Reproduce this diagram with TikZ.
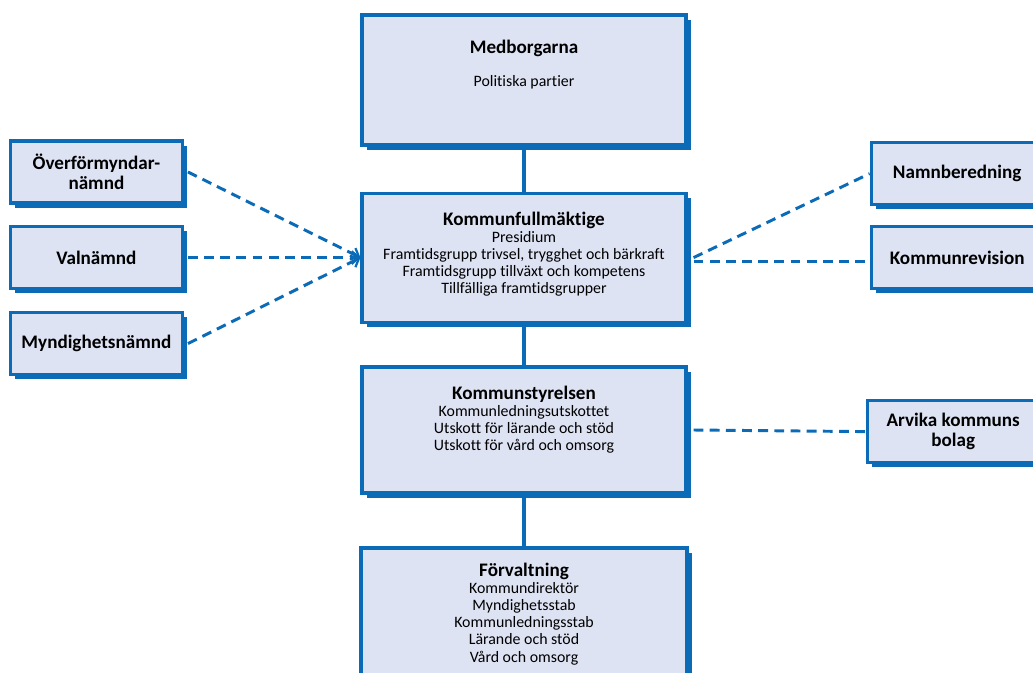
\documentclass[tikz,border=0pt]{standalone}
\usepackage{fontspec}
\setmainfont{Carlito}[Ligatures={NoCommon}]
\usetikzlibrary{arrows.meta,shadows}

\definecolor{orgblue}{HTML}{0B6BB6}
\definecolor{orgfill}{HTML}{DEE3F4}

\tikzset{
  orgbox/.style={draw=orgblue, line width=2.2pt, fill=orgfill, inner sep=0pt,
    drop shadow={shadow xshift=0.12cm, shadow yshift=-0.12cm, fill=orgblue, opacity=1}},
  sidebox/.style={orgbox, minimum width=4.3cm, minimum height=1.55cm,
    align=center, font=\bfseries\fontsize{13.6}{14.5}\selectfont},
  orgtext/.style={anchor=north, align=center, inner sep=0pt,
    font=\fontsize{11.3}{12.1}\selectfont},
  solidlink/.style={draw=orgblue, line width=2.3pt},
  dashlink/.style={draw=orgblue, line width=2.1pt, dash pattern=on 7pt off 4.5pt}
}
\newcommand{\orgtitle}[1]{{\bfseries\fontsize{13.6}{14}\selectfont #1}}

\begin{document}
\begin{tikzpicture}
\useasboundingbox (0cm,0cm) rectangle (25.825cm,-16.825cm);

% central column
\node[orgbox, minimum width=8.1cm, minimum height=3.25cm] (medb) at (13.1cm,-2.0cm) {};
\node[orgbox, minimum width=8.1cm, minimum height=3.225cm] (kf) at (13.1cm,-6.44cm) {};
\node[orgbox, minimum width=8.1cm, minimum height=3.15cm] (ks) at (13.1cm,-10.75cm) {};
\node[orgbox, minimum width=8.15cm, minimum height=3.6cm] (forv) at (13.1cm,-15.5cm) {};

\node[orgtext] (medbtext) at ([yshift=-0.65cm]medb.north) {\orgtitle{Medborgarna}\\[0.42cm] Politiska partier};
\node[orgtext] (kftext) at ([yshift=-0.5cm]kf.north) {\orgtitle{Kommunfullmäktige}\\ Presidium\\ Framtidsgrupp trivsel, trygghet och bärkraft\\ Framtidsgrupp tillväxt och kompetens\\ Tillfälliga framtidsgrupper};
\node[orgtext] (kstext) at ([yshift=-0.5cm]ks.north) {\orgtitle{Kommunstyrelsen}\\ Kommunledningsutskottet\\ Utskott för lärande och stöd\\ Utskott för vård och omsorg};
\node[orgtext] (forvtext) at ([yshift=-0.42cm]forv.north) {\orgtitle{Förvaltning}\\ Kommundirektör\\ Myndighetsstab\\ Kommunledningsstab\\ Lärande och stöd\\ Vård och omsorg};

% side boxes
\node[sidebox] (overf) at (2.41cm,-4.3cm) {Överförmyndar-\\nämnd};
\node[sidebox] (valn) at (2.41cm,-6.44cm) {Valnämnd};
\node[sidebox] (myndn) at (2.41cm,-8.59cm) {Myndighetsnämnd};
\node[sidebox] (namnb) at (23.93cm,-4.34cm) {Namnberedning};
\node[sidebox] (revis) at (23.93cm,-6.44cm) {Kommunrevision};
\node[sidebox] (bolag) at (23.83cm,-10.79cm) {Arvika kommuns\\bolag};

% links
\draw[solidlink] (medb.south) -- (kf.north);
\draw[solidlink] (kf.south) -- (ks.north);
\draw[solidlink] (ks.south) -- (forv.north);

\draw[dashlink, -{Straight Barb[length=5pt,width=9pt,line width=1.6pt]}] ([xshift=0.1cm]overf.east) -- (kf.west);
\draw[dashlink, -{Straight Barb[length=5pt,width=9pt,line width=1.6pt]}] ([xshift=0.1cm]valn.east) -- (kf.west);
\draw[dashlink, -{Straight Barb[length=5pt,width=9pt,line width=1.6pt]}] ([xshift=0.1cm]myndn.east) -- (kf.west);
\draw[dashlink] ([xshift=0.15cm]kf.east) -- (namnb.west);
\draw[dashlink] ([xshift=0.15cm,yshift=-0.1cm]kf.east) -- ([yshift=-0.1cm]revis.west);
\draw[dashlink] ([xshift=0.15cm]ks.east) -- (bolag.west);
\end{tikzpicture}
\end{document}
